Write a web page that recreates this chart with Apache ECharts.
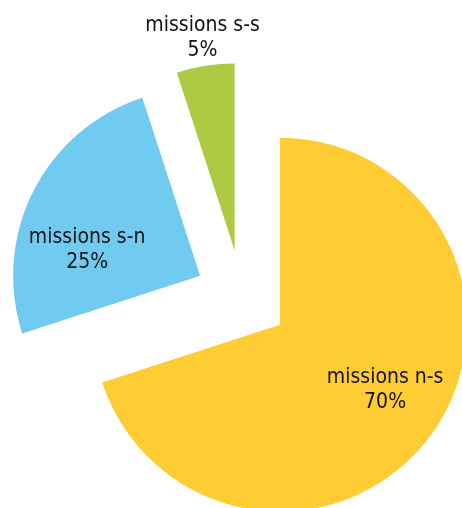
<!DOCTYPE html>
<html>
<head>
<meta charset="utf-8">
<script src="https://cdn.jsdelivr.net/npm/echarts@6/dist/echarts.min.js"></script>
<style>
  html, body { margin: 0; padding: 0; background: #fff; }
  #chart { width: 462px; height: 508px; }
</style>
</head>
<body>
<div id="chart"></div>
<script>
const names = ["missions n-s", "missions s-n", "missions s-s"];
const values = [70, 25, 5];
const colors = ["#FFCC33", "#71CBF0", "#AEC942"];
// nudges to put each label where the original sits
const labelShift = [[27, 9], [-27, 18], [-17, -117]];

const chart = echarts.init(document.getElementById("chart"));

const data = names.map((n, i) => ({
  name: n,
  value: values[i],
  selected: true,
  itemStyle: { color: colors[i] }
}));

chart.setOption({
  animation: false,
  series: [
    {
      type: "pie",
      center: [242, 297],
      radius: 187,
      startAngle: 90,
      clockwise: true,
      selectedMode: "multiple",
      selectedOffset: 47,
      label: {
        show: true,
        position: "inside",
        formatter: "{b}\n{d}%",
        color: "#111",
        fontSize: 21,
        lineHeight: 25,
        fontFamily: "DejaVu Sans Condensed, Liberation Sans, sans-serif",
        align: "center"
      },
      labelLine: { show: false },
      select: { itemStyle: { borderWidth: 0 }, label: { color: "#111" } },
      emphasis: { disabled: true },
      labelLayout: function (p) {
        const s = labelShift[p.dataIndex];
        return { dx: s[0], dy: s[1] };
      },
      data: data
    }
  ]
});
window.addEventListener("resize", () => chart.resize(), false);
</script>
</body>
</html>
